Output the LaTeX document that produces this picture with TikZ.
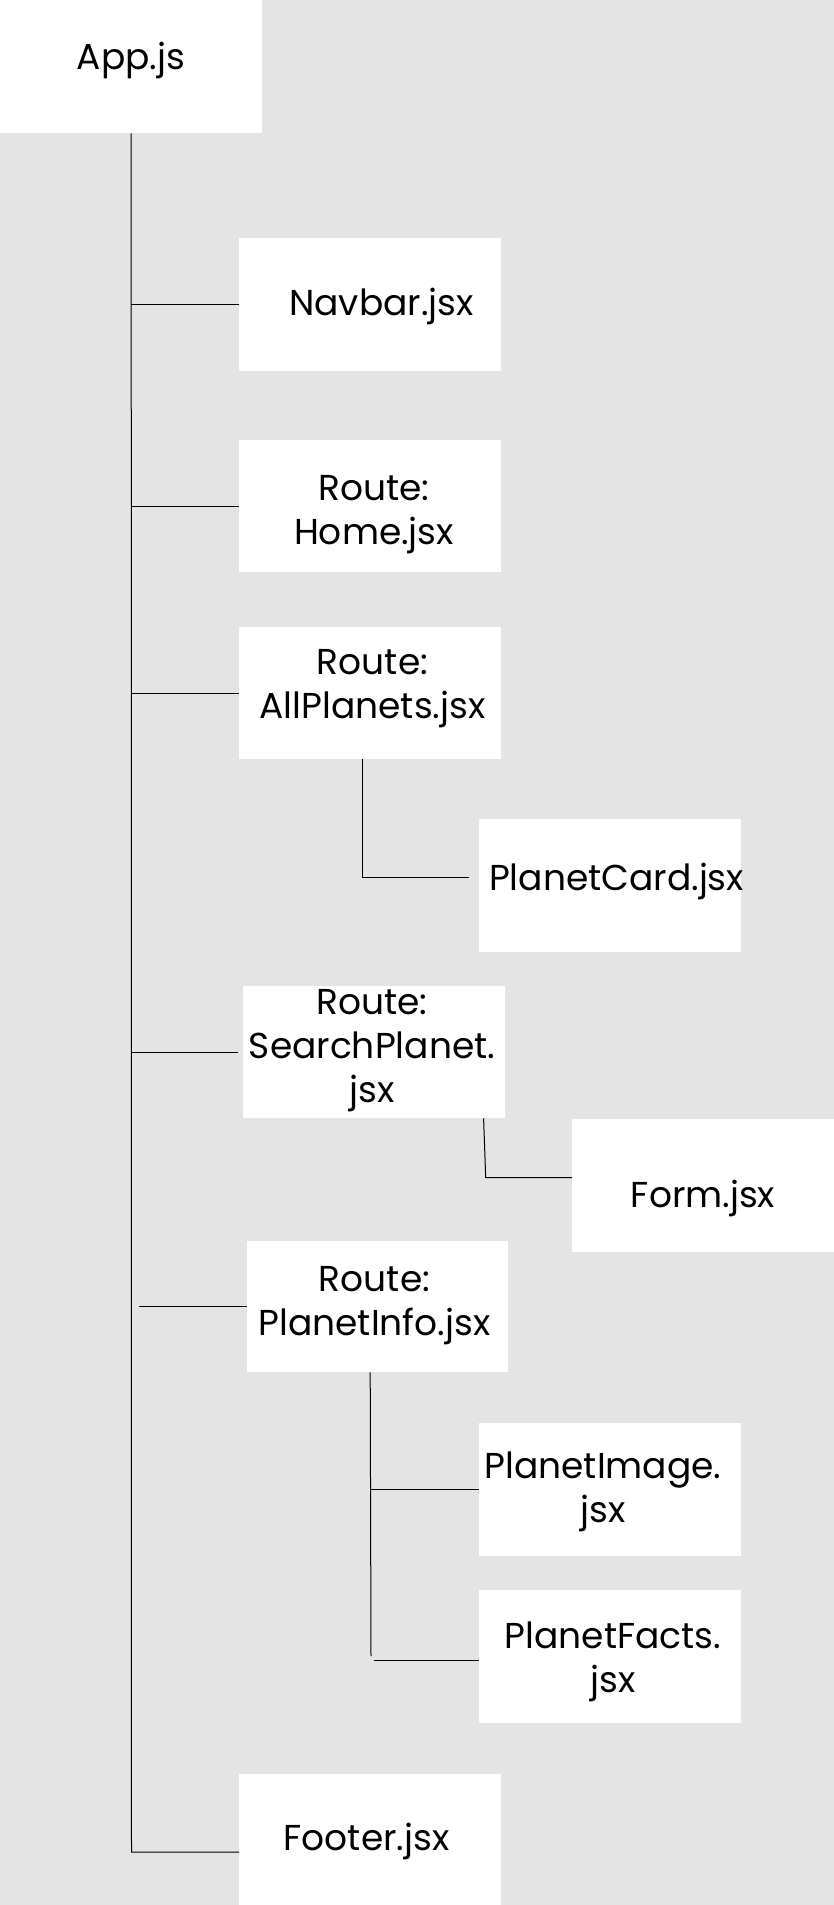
\documentclass[tikz,border=0pt]{standalone}
\usepackage{fontspec}
\setmainfont{Poppins}
\definecolor{bg}{HTML}{E4E4E4}
\begin{document}
\begin{tikzpicture}[x=1pt,y=-1pt,
  box/.style={fill=white,draw=none,inner sep=0pt,anchor=north west},
  lbl/.style={inner sep=0pt,align=center,anchor=base,font=\fontsize{36}{44}\selectfont},
  conn/.style={draw=black,line width=1pt}]
\fill[bg] (0,0) rectangle (834,1905);
\useasboundingbox (0,0) rectangle (834,1905);
% boxes
\node[box,minimum width=262pt,minimum height=133pt] (app) at (0,0) {};
\node[box,minimum width=262pt,minimum height=133pt] (nav) at (239,238) {};
\node[box,minimum width=262pt,minimum height=132pt] (home) at (239,440) {};
\node[box,minimum width=262pt,minimum height=132pt] (allp) at (239,627) {};
\node[box,minimum width=262pt,minimum height=133pt] (card) at (479,819) {};
\node[box,minimum width=262pt,minimum height=132pt] (search) at (243,986) {};
\node[box,minimum width=262pt,minimum height=133pt] (form) at (572,1119) {};
\node[box,minimum width=261pt,minimum height=131pt] (info) at (247,1241) {};
\node[box,minimum width=262pt,minimum height=133pt] (image) at (479,1423) {};
\node[box,minimum width=262pt,minimum height=133pt] (facts) at (479,1590) {};
\node[box,minimum width=262pt,minimum height=131pt] (footer) at (239,1774) {};
% labels (anchor at baseline of last line)
\node[lbl] (appt) at (131,70) {App.js};
\node[lbl] (navt) at (381.5,315) {Navbar.jsx};
\node[lbl] (homet) at (374,544.5) {Route:\\Home.jsx};
\node[lbl] (allpt) at (372.5,718) {Route:\\AllPlanets.jsx};
\node[lbl] (cardt) at (616.5,890.7) {PlanetCard.jsx};
\node[lbl] (searcht) at (372,1102.3) {Route:\\SearchPlanet.\\jsx};
\node[lbl] (formt) at (703,1207.7) {Form.jsx};
\node[lbl] (infot) at (374.5,1335) {Route:\\PlanetInfo.jsx};
\node[lbl] (imaget) at (603,1522) {PlanetImage.\\jsx};
\node[lbl] (factst) at (613,1692.5) {PlanetFacts.\\jsx};
\node[lbl] (footert) at (366.5,1850.5) {Footer.jsx};
% trunk
\coordinate (trunkend) at (131.5,1852);
\draw[conn] (app.south) -- (trunkend) -- (trunkend -| footer.west);
\draw[conn] (app.south |- nav.west) -- (nav.west);
\draw[conn] (app.south |- home.west) -- (home.west);
\draw[conn] (app.south |- allp.west) -- (allp.west);
\draw[conn] (app.south |- search.west) -- ([xshift=-4.6pt]search.west);
\draw[conn] ([xshift=-108pt]info.west) -- (info.west);
% AllPlanets -> PlanetCard
\draw[conn] ([xshift=-7.3pt]allp.south) |- ([xshift=-9.7pt,yshift=8.2pt]card.west);
% SearchPlanet -> Form
\coordinate (sf) at (485.7,1177.7);
\draw[conn] ([xshift=109.4pt]search.south) -- (sf) -- (sf -| form.west);
% PlanetInfo -> PlanetImage, PlanetFacts
\coordinate (it) at ([xshift=-7.5pt]info.south);
\coordinate (ib) at (371,1656);
\draw[conn] (it) -- (ib);
\draw[conn] (it |- image.west) -- (image.west);
\draw[conn] ([xshift=-105pt,yshift=-3.9pt]facts.west) -- ([yshift=-3.9pt]facts.west);
\end{tikzpicture}
\end{document}
